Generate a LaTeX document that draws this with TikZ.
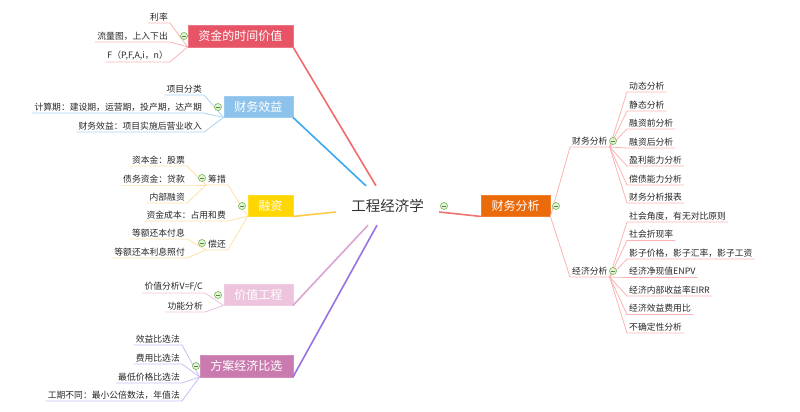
\documentclass[tikz,border=0pt]{standalone}
\usepackage{fontspec}
\newfontfamily\cjk{Noto Sans CJK SC}
\usepackage{tikz}
\usetikzlibrary{positioning}
\definecolor{zjred}{HTML}{E65466}
\definecolor{zjline}{HTML}{F26B6B}
\definecolor{zjleaf}{HTML}{F8B4B4}
\definecolor{cwblue}{HTML}{8DC3EB}
\definecolor{cwline}{HTML}{3DA8F2}
\definecolor{cwleaf}{HTML}{A9D3F3}
\definecolor{rzgold}{HTML}{FFD600}
\definecolor{rzline}{HTML}{FFC94A}
\definecolor{rzleaf}{HTML}{FFE0A6}
\definecolor{jzpink}{HTML}{EDC3DD}
\definecolor{jzline}{HTML}{DCA3D2}
\definecolor{jzleaf}{HTML}{EBC0DC}
\definecolor{famag}{HTML}{C97AAF}
\definecolor{faline}{HTML}{9872E0}
\definecolor{faleaf}{HTML}{C9BCF2}
\definecolor{fxorange}{HTML}{EB6A0A}
\definecolor{fxline}{HTML}{F07272}
\definecolor{fxleaf}{HTML}{FBB3B3}
\definecolor{foldgreen}{HTML}{7DBE5A}

\begin{document}
\begin{tikzpicture}[x=1pt, y=-1pt,
  root/.style={font=\cjk\fontsize{14.5}{16}\selectfont, text=black!80, minimum width=103pt, minimum height=39pt, inner sep=0pt},
  topic/.style={font=\cjk\fontsize{12}{14}\selectfont, text=white, inner xsep=10.5pt, inner ysep=0pt, minimum height=21.5pt},
  leaf/.style={font=\cjk\fontsize{8.8}{11}\selectfont, text=black!85, inner xsep=2pt, inner ysep=1.8pt},
  main/.style={line width=1.6pt},
  twig/.style={line width=0.8pt},
  fold/.style={circle, draw=foldgreen, fill=foldgreen!20, line width=0.7pt, minimum size=7pt, inner sep=0pt,
    path picture={\draw[foldgreen!70!black, line width=0.8pt] ([xshift=-2pt]path picture bounding box.center) -- ([xshift=2pt]path picture bounding box.center);}}]
\useasboundingbox (0,0) rectangle (800,412);

% centre
\node[root] (root) at (387.5,205.5) {工程经济学};
\node[fold] (f0) at (444,206) {};

% main topics
\node[topic, fill=zjred, draw=zjred!80, anchor=east] (zj) at (293,36) {资金的时间价值};
\node[topic, fill=cwblue, draw=cwblue!85, anchor=east] (xy) at (293,106.5) {财务效益};
\node[topic, fill=rzgold, draw=rzgold!85, anchor=east] (rz) at (293,205.5) {融资};
\node[topic, fill=jzpink, draw=jzpink!85, anchor=east] (jz) at (293,294.5) {价值工程};
\node[topic, fill=famag, draw=famag!85, anchor=east] (fa) at (293,366) {方案经济比选};
\node[topic, fill=fxorange, draw=fxorange!85, anchor=west] (fx) at (481,205.5) {财务分析};

\draw[main, zjline] (zj.south east) -- ([xshift=-11.5pt]root.north);
\draw[main, cwline] (xy.south east) -- ([xshift=-21.5pt]root.north);
\draw[main, rzline] (rz.south east) -- ([yshift=-6.5pt]root.west);
\draw[main, jzline] (jz.south east) -- ([xshift=-19.5pt]root.south);
\draw[main, faline] (fa.south east) -- ([xshift=-10.5pt]root.south);
\draw[main, fxline] ([yshift=-6.5pt]root.east) -- (fx.south west);

% 资金的时间价值
\node[leaf, anchor=south east] (zj1) at (170,23) {利率};
\node[leaf, anchor=south east] (zj2) at (170,42) {流量图，上入下出};
\node[leaf, anchor=south east] (zj3) at (170,62) {F（P,F,A,i，n）};
\draw[twig, zjleaf] (zj1.south west) -- (zj1.south east) -- (zj.south west);
\draw[twig, zjleaf] (zj2.south west) -- (zj2.south east) -- (zj.south west);
\draw[twig, zjleaf] (zj3.south west) -- (zj3.south east) -- (zj.south west);
\node[fold] (f1) at (184,36) {};

% 财务效益
\node[leaf, anchor=south east] (xy1) at (204,95) {项目分类};
\node[leaf, anchor=south east] (xy2) at (204,113) {计算期：建设期，运营期，投产期，达产期};
\node[leaf, anchor=south east] (xy3) at (204,132) {财务效益：项目实施后营业收入};
\draw[twig, cwleaf] (xy1.south west) -- (xy1.south east) -- (xy.south west);
\draw[twig, cwleaf] (xy2.south west) -- (xy2.south east) -- (xy.south west);
\draw[twig, cwleaf] (xy3.south west) -- (xy3.south east) -- (xy.south west);
\node[fold] (f2) at (218,107) {};

% 融资
\node[leaf, anchor=south east] (cc) at (228,185) {筹措};
\node[leaf, anchor=south east] (cb) at (228,221) {资金成本：占用和费};
\node[leaf, anchor=south east] (ch) at (228,250) {偿还};
\draw[twig, rzleaf] (cc.south west) -- (cc.south east) -- (rz.south west);
\draw[twig, rzleaf] (cb.south west) -- (cb.south east) -- (rz.south west);
\draw[twig, rzleaf] (ch.south west) -- (ch.south east) -- (rz.south west);
\node[leaf, anchor=south east] (cc1) at (187,166) {资本金：股票};
\node[leaf, anchor=south east] (cc2) at (187,185) {债务资金：贷款};
\node[leaf, anchor=south east] (cc3) at (187,203) {内部融资};
\draw[twig, rzleaf] (cc1.south west) -- (cc1.south east) -- (cc.south west);
\draw[twig, rzleaf] (cc2.south west) -- (cc2.south east) -- (cc.south west);
\draw[twig, rzleaf] (cc3.south west) -- (cc3.south east) -- (cc.south west);
\node[leaf, anchor=south east] (ch1) at (187,239) {等额还本付息};
\node[leaf, anchor=south east] (ch2) at (187,258) {等额还本利息照付};
\draw[twig, rzleaf] (ch1.south west) -- (ch1.south east) -- (ch.south west);
\draw[twig, rzleaf] (ch2.south west) -- (ch2.south east) -- (ch.south west);
\node[fold] (f3) at (242,206) {};
\node[fold] (f4) at (202,178) {};
\node[fold] (f5) at (202,243) {};

% 价值工程
\node[leaf, anchor=south east] (jz1) at (205,293) {价值分析V=F/C};
\node[leaf, anchor=south east] (jz2) at (205,312) {功能分析};
\draw[twig, jzleaf] (jz1.south west) -- (jz1.south east) -- (jz.south west);
\draw[twig, jzleaf] (jz2.south west) -- (jz2.south east) -- (jz.south west);
\node[fold] (f6) at (218,295) {};

% 方案经济比选
\node[leaf, anchor=south east] (fa1) at (182,345) {效益比选法};
\node[leaf, anchor=south east] (fa2) at (182,364) {费用比选法};
\node[leaf, anchor=south east] (fa3) at (182,383) {最低价格比选法};
\node[leaf, anchor=south east] (fa4) at (182,401) {工期不同：最小公倍数法，年值法};
\draw[twig, faleaf] (fa1.south west) -- (fa1.south east) -- (fa.south west);
\draw[twig, faleaf] (fa2.south west) -- (fa2.south east) -- (fa.south west);
\draw[twig, faleaf] (fa3.south west) -- (fa3.south east) -- (fa.south west);
\draw[twig, faleaf] (fa4.south west) -- (fa4.south east) -- (fa.south west);
\node[fold] (f7) at (196,366) {};

% 财务分析 (right)
\node[leaf, anchor=south west] (cw) at (570,147) {财务分析};
\node[leaf, anchor=south west] (jj) at (570,277) {经济分析};
\draw[twig, fxleaf] (fx.south east) -- (cw.south west) -- (cw.south east);
\draw[twig, fxleaf] (fx.south east) -- (jj.south west) -- (jj.south east);
\node[fold] (f8) at (556,206) {};

\node[leaf, anchor=south west] (cw1) at (627,92) {动态分析};
\node[leaf, anchor=south west] (cw2) at (627,111) {静态分析};
\node[leaf, anchor=south west] (cw3) at (627,129) {融资前分析};
\node[leaf, anchor=south west] (cw4) at (627,148) {融资后分析};
\node[leaf, anchor=south west] (cw5) at (627,166) {盈利能力分析};
\node[leaf, anchor=south west] (cw6) at (627,185) {偿债能力分析};
\node[leaf, anchor=south west] (cw7) at (627,203) {财务分析报表};
\draw[twig, fxleaf] (cw.south east) -- (cw1.south west) -- (cw1.south east);
\draw[twig, fxleaf] (cw.south east) -- (cw2.south west) -- (cw2.south east);
\draw[twig, fxleaf] (cw.south east) -- (cw3.south west) -- (cw3.south east);
\draw[twig, fxleaf] (cw.south east) -- (cw4.south west) -- (cw4.south east);
\draw[twig, fxleaf] (cw.south east) -- (cw5.south west) -- (cw5.south east);
\draw[twig, fxleaf] (cw.south east) -- (cw6.south west) -- (cw6.south east);
\draw[twig, fxleaf] (cw.south east) -- (cw7.south west) -- (cw7.south east);
\node[fold] (f9) at (613,141) {};

\node[leaf, anchor=south west] (jj1) at (627,222) {社会角度，有无对比原则};
\node[leaf, anchor=south west] (jj2) at (627,240.5) {社会折现率};
\node[leaf, anchor=south west] (jj3) at (627,259) {影子价格，影子汇率，影子工资};
\node[leaf, anchor=south west] (jj4) at (627,277.5) {经济净现值ENPV};
\node[leaf, anchor=south west] (jj5) at (627,296) {经济内部收益率EIRR};
\node[leaf, anchor=south west] (jj6) at (627,314.5) {经济效益费用比};
\node[leaf, anchor=south west] (jj7) at (627,333) {不确定性分析};
\draw[twig, fxleaf] (jj.south east) -- (jj1.south west) -- (jj1.south east);
\draw[twig, fxleaf] (jj.south east) -- (jj2.south west) -- (jj2.south east);
\draw[twig, fxleaf] (jj.south east) -- (jj3.south west) -- (jj3.south east);
\draw[twig, fxleaf] (jj.south east) -- (jj4.south west) -- (jj4.south east);
\draw[twig, fxleaf] (jj.south east) -- (jj5.south west) -- (jj5.south east);
\draw[twig, fxleaf] (jj.south east) -- (jj6.south west) -- (jj6.south east);
\draw[twig, fxleaf] (jj.south east) -- (jj7.south west) -- (jj7.south east);
\node[fold] (f10) at (613,271) {};
\end{tikzpicture}
\end{document}
